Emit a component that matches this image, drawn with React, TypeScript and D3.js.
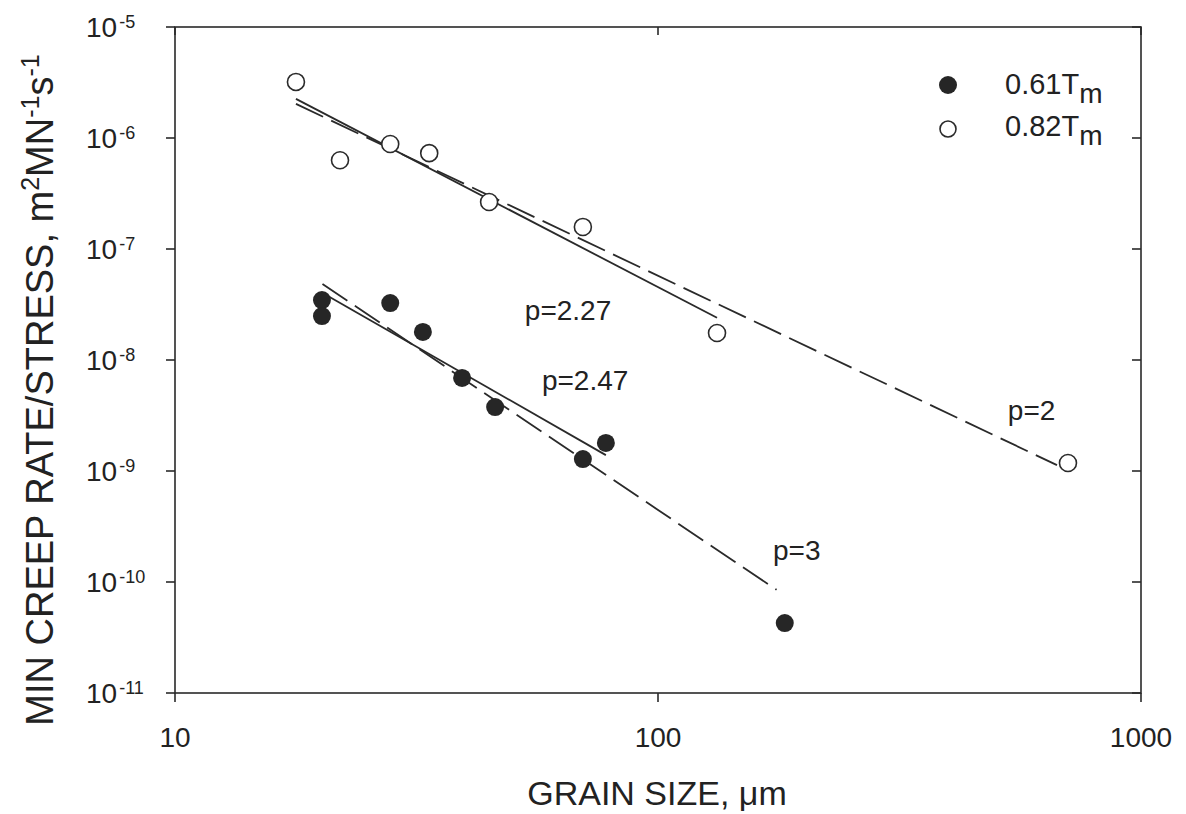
import * as d3 from 'd3';

// 0.61 Tm (filled)
const t061X = [20.15, 20.15, 27.9, 32.6, 39.3, 46.0, 69.9, 78.0, 183];
const t061Y = [3.47e-8, 2.49e-8, 3.26e-8, 1.79e-8, 6.9e-9, 3.77e-9, 1.28e-9, 1.79e-9, 4.27e-11];

// 0.82 Tm (open)
const t082X = [17.8, 21.96, 27.9, 33.6, 44.7, 69.9, 132.5, 706];
const t082Y = [3.2e-6, 6.3e-7, 8.83e-7, 7.3e-7, 2.65e-7, 1.58e-7, 1.75e-8, 1.18e-9];

// fitted lines (end points) and slopes drawn as reference lines
const fit227X = [17.8, 132.5];
const fit227Y = [2.25e-6, 2.4e-8];
const fit2X = [17.8, 670];
const fit2Y = [2.03e-6, 1.13e-9];
const fit247X = [20.9, 78];
const fit247Y = [3.7e-8, 1.39e-9];
const fit3X = [20.2, 176];
const fit3Y = [4.84e-8, 8.5e-11];

const labelText = ['p=2.27', 'p=2.47', 'p=2', 'p=3'];
const labelX = [53, 57.5, 530, 173];
const labelY = [2.29e-8, 5.37e-9, 2.88e-9, 1.58e-10];

const xTicks = [10, 100, 1000];
const yExps = [-5, -6, -7, -8, -9, -10, -11];

const W = 1186;
const H = 814;
const FONT = '"Liberation Sans", Arial, Helvetica, sans-serif';
const INK = '#2a2a2a';

export default function App() {
  const x = d3.scaleLog().domain([10, 1000]).range([175, 1141]);
  const y = d3.scaleLog().domain([1e-11, 1e-5]).range([693, 27]);
  const [x0, x1] = x.range();
  const [y0, y1] = y.range();

  const line = d3.line<[number, number]>()
    .x(d => x(d[0]))
    .y(d => y(d[1]));

  const fits = [
    { xs: fit227X, ys: fit227Y, dash: null },
    { xs: fit2X, ys: fit2Y, dash: '30,9' },
    { xs: fit247X, ys: fit247Y, dash: null },
    { xs: fit3X, ys: fit3Y, dash: '30,9' },
  ];

  return (
    <svg
      width={W}
      height={H}
      style={{ position: 'absolute', left: 0, top: 0, background: '#fff' }}
      fontFamily={FONT}
    >
      <rect width={W} height={H} fill="#fff" />

      {/* frame */}
      <rect x={x0} y={y1} width={x1 - x0} height={y0 - y1} fill="none" stroke={INK} strokeWidth={1.6} />

      {/* y ticks: outward on left, inward on right */}
      {yExps.map(e => (
        <g key={e}>
          <line x1={x0 - 9} x2={x0} y1={y(10 ** e)} y2={y(10 ** e)} stroke={INK} strokeWidth={1.6} />
          <line x1={x1 - 9} x2={x1} y1={y(10 ** e)} y2={y(10 ** e)} stroke={INK} strokeWidth={1.6} />
          <text x={86} y={y(10 ** e) + 10} fontSize={28} fill="#222">
            10
            <tspan dx={2} dy={-9} fontSize={18}>{String(e)}</tspan>
          </text>
        </g>
      ))}

      {/* x ticks: outward at bottom, inward at top */}
      {xTicks.map(t => (
        <g key={t}>
          <line x1={x(t)} x2={x(t)} y1={y0} y2={y0 + 9} stroke={INK} strokeWidth={1.6} />
          <line x1={x(t)} x2={x(t)} y1={y1} y2={y1 + 8} stroke={INK} strokeWidth={1.6} />
          <text x={x(t)} y={747} fontSize={28} textAnchor="middle" fill="#222">{t}</text>
        </g>
      ))}

      {/* fit lines */}
      {fits.map((f, i) => (
        <path
          key={i}
          d={line(f.xs.map((v, j) => [v, f.ys[j]] as [number, number])) || ''}
          fill="none"
          stroke={INK}
          strokeWidth={1.8}
          strokeDasharray={f.dash || undefined}
        />
      ))}

      {/* 0.82 Tm open circles */}
      {t082X.map((v, i) => (
        <circle key={'o' + i} cx={x(v)} cy={y(t082Y[i])} r={8.5} fill="#fff" stroke={INK} strokeWidth={1.6} />
      ))}

      {/* 0.61 Tm filled circles */}
      {t061X.map((v, i) => (
        <circle key={'f' + i} cx={x(v)} cy={y(t061Y[i])} r={9} fill="#262626" />
      ))}

      {/* slope labels */}
      {labelText.map((s, i) => (
        <text key={s} x={x(labelX[i])} y={y(labelY[i])} fontSize={28} fill="#222">{s}</text>
      ))}

      {/* legend */}
      <circle cx={948} cy={85} r={9} fill="#262626" />
      <text x={1005} y={94} fontSize={29} fill="#222">
        0.61T<tspan dy={9} fontSize={28}>m</tspan>
      </text>
      <circle cx={948} cy={129} r={8} fill="#fff" stroke={INK} strokeWidth={1.6} />
      <text x={1005} y={136} fontSize={29} fill="#222">
        0.82T<tspan dy={9} fontSize={28}>m</tspan>
      </text>

      {/* axis titles */}
      <text x={657} y={805} fontSize={34} textAnchor="middle" fill="#222">GRAIN SIZE, μm</text>
      <text
        transform="translate(53,390) rotate(-90)"
        fontSize={38}
        textAnchor="middle"
        fill="#222"
      >
        MIN CREEP RATE/STRESS, m
        <tspan dy={-14} fontSize={25}>2</tspan>
        <tspan dy={14}>MN</tspan>
        <tspan dy={-14} fontSize={25}>-1</tspan>
        <tspan dy={14}>s</tspan>
        <tspan dy={-14} fontSize={25}>-1</tspan>
      </text>
    </svg>
  );
}
